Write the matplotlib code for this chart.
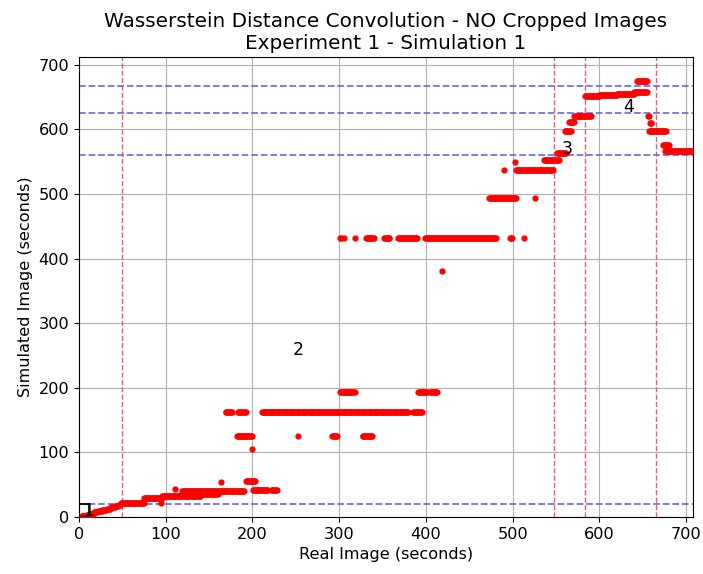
import matplotlib
matplotlib.use('Agg')
import matplotlib.pyplot as plt
import numpy as np

# runs of frames sharing the same matched time: (first second, last second, simulated second)
run_start = [0, 3, 6, 9, 12, 17, 22, 27, 32, 37, 42, 46,
             48, 75, 94, 96, 111, 119, 140,
             164, 169, 183, 182, 200, 193, 201, 222,
             211, 385, 253, 292, 327, 301, 391, 405,
             301, 305, 318, 331, 352, 368, 399, 497, 513,
             473, 418, 490, 504, 526,
             503, 536, 551, 560, 565, 571, 584, 600, 620, 640, 643,
             656, 658, 657, 673, 676]
run_end = [2, 5, 8, 11, 16, 21, 26, 31, 36, 41, 45, 47,
           75, 96, 94, 140, 111, 190, 160,
           164, 176, 192, 199, 200, 203, 218, 228,
           379, 395, 253, 297, 338, 318, 401, 413,
           302, 305, 318, 340, 358, 390, 481, 499, 513,
           504, 418, 490, 546, 526,
           503, 553, 561, 567, 571, 590, 600, 620, 640, 655, 655,
           657, 660, 677, 680, 707]
run_value = [0, 1, 2, 3, 5, 7, 9, 11, 13, 15, 17, 19,
             21, 29, 22, 33, 43, 41, 36,
             54, 163, 163, 125, 106, 56, 42, 42,
             163, 163, 125, 125, 125, 193, 193, 193,
             432, 432, 432, 432, 432, 432, 432, 432, 432,
             494, 381, 537, 537, 494,
             549, 552, 563, 598, 612, 620, 651, 653, 655, 658, 675,
             620, 610, 598, 576, 566]

# segment boundaries
h_bounds = [20, 560, 625, 667]
v_bounds = [50, 548, 583, 665]
seg_labels = ['1', '2', '3', '4']
seg_label_x = [11, 253, 563, 634]
seg_label_y = [9, 259, 570, 635]

real_t = np.concatenate([np.arange(a, b + 1) for a, b in zip(run_start, run_end)])
sim_t = np.concatenate([np.full(b - a + 1, v) for a, b, v in zip(run_start, run_end, run_value)])

fig = plt.figure(figsize=(7.03, 5.74), dpi=100)
ax = fig.add_axes([0.1124, 0.0993, 0.8734, 0.8014])

ax.plot(real_t, sim_t, 'r.', ms=7, zorder=3)

for h in h_bounds:
	ax.axhline(h, color='#5a5ae6', ls='--', lw=1.3, alpha=0.85, zorder=2)
for v in v_bounds:
	ax.axvline(v, color='#e0405a', ls='--', lw=1.0, alpha=0.85, zorder=2)
ax.add_patch(plt.Rectangle((0, 0), 12, 20, fill=False, edgecolor='k', lw=1.2, zorder=4))

for s, tx, ty in zip(seg_labels, seg_label_x, seg_label_y):
	ax.text(tx, ty, s, fontsize=12.5, ha='center', va='center', zorder=5)

ax.set_xlim(0, 708)
ax.set_ylim(0, 712)
ax.set_xticks(np.arange(0, 701, 100))
ax.set_yticks(np.arange(0, 701, 100))
ax.tick_params(labelsize=11.6)
ax.grid(True, zorder=0)
ax.set_axisbelow(True)
ax.set_xlabel('Real Image (seconds)', fontsize=11.6)
ax.set_ylabel('Simulated Image (seconds)', fontsize=11.6)
ax.set_title('Wasserstein Distance Convolution - NO Cropped Images\nExperiment 1 - Simulation 1', fontsize=14.4)

plt.savefig('out.png', dpi=100)
